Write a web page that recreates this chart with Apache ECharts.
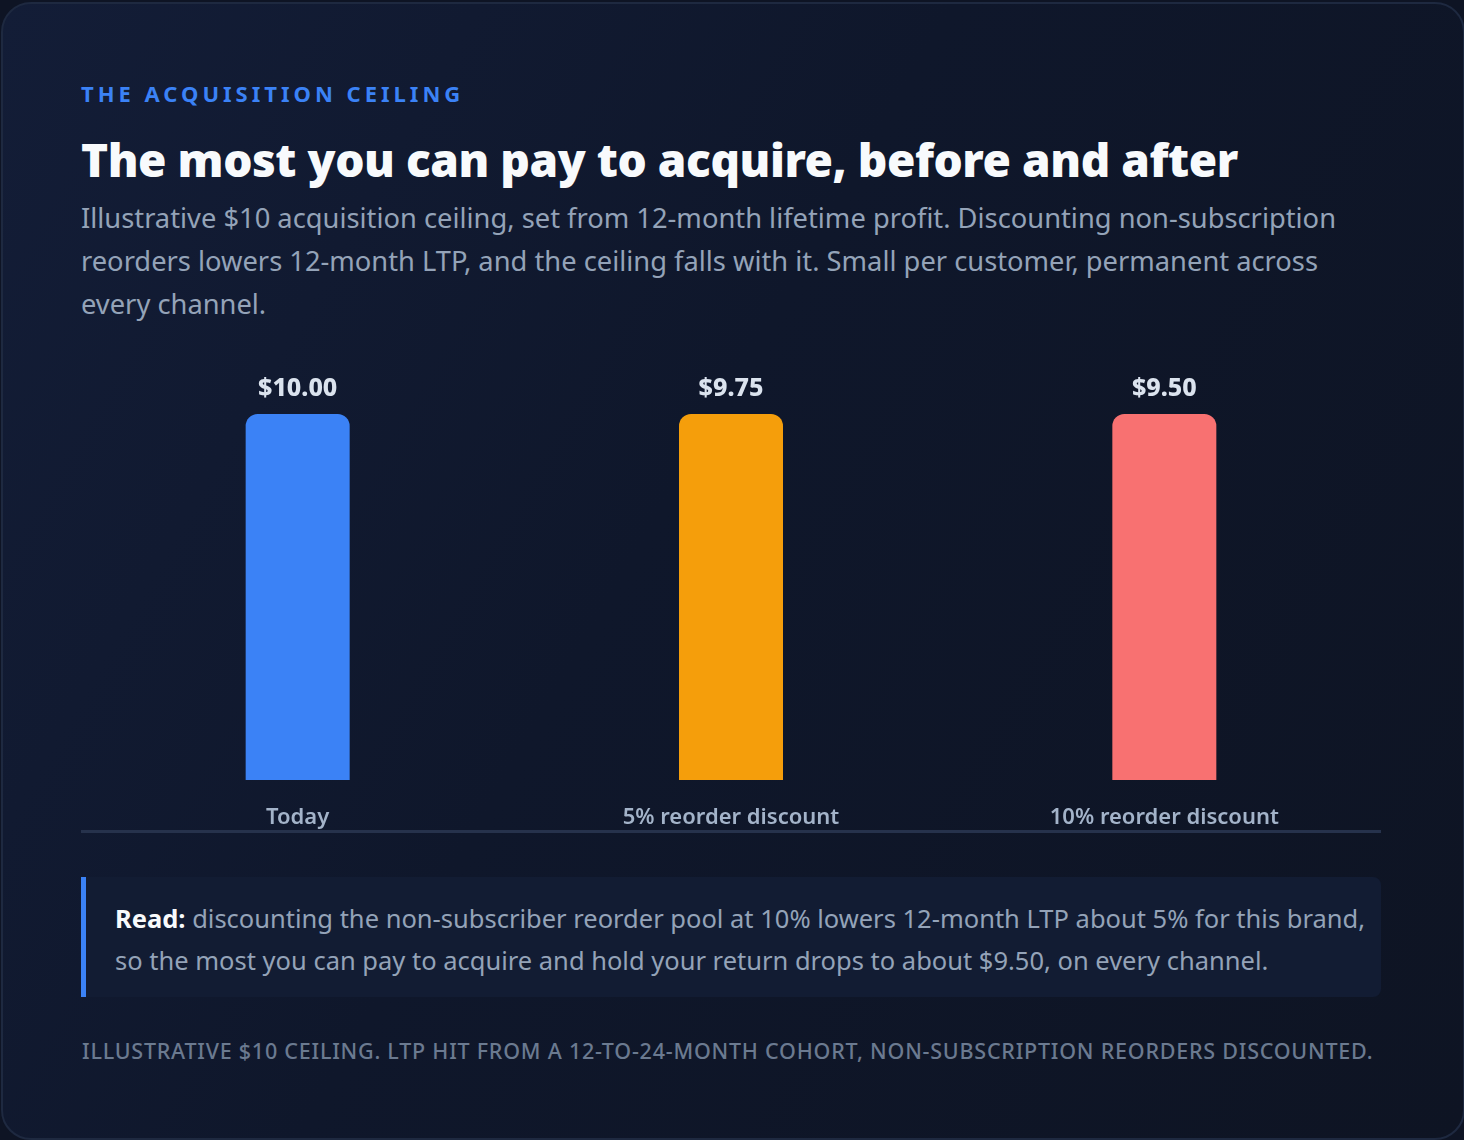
<!DOCTYPE html>
<html>
<head>
<meta charset="utf-8">
<script src="https://cdn.jsdelivr.net/npm/echarts@6/dist/echarts.min.js"></script>
<style>
  html, body { margin: 0; padding: 0; background: #0e1424; }
  body { width: 1464px; height: 1140px; overflow: hidden; font-family: "Noto Sans", "Open Sans", sans-serif; }
  .card {
    position: absolute; left: 1px; top: 2px; width: 1460px; height: 1134px;
    border: 2px solid #1e2940; border-radius: 30px;
    background: linear-gradient(120deg, #131d37 0%, #0f172b 45%, #0e1423 100%);
  }
  .kicker {
    position: absolute; left: 81px; top: 78px;
    font-size: 22px; font-weight: 700; letter-spacing: 4px; color: #3b82f6;
  }
  .title {
    position: absolute; left: 81px; top: 128px; white-space: nowrap;
    font-size: 46px; font-weight: 900; color: #f8fafc; letter-spacing: -0.45px;
  }
  .sub {
    position: absolute; left: 81px; top: 196px; width: 1290px;
    font-size: 27.3px; line-height: 43px; color: #94a3b8;
  }
  #chart { position: absolute; left: 81px; top: 360px; width: 1300px; height: 470px; }
  .axisline { position: absolute; left: 81px; top: 830px; width: 1300px; height: 3px; background: #26324c; }
  .note {
    position: absolute; left: 81px; top: 877px; width: 1266px; height: 120px;
    background: #121c33; border-left: 5px solid #3b82f6; border-radius: 0 8px 8px 0;
    padding-left: 29px; box-sizing: content-box;
  }
  .note p { margin: 20px 0 0 0; font-size: 25.5px; line-height: 42px; color: #94a3b8; }
  .note b { color: #f8fafc; }
  .foot {
    position: absolute; left: 82px; top: 1036px; white-space: nowrap;
    font-size: 21.5px; font-weight: 500; letter-spacing: 0.77px; color: #6b7a90;
  }
</style>
</head>
<body>
<div class="card">
</div>
<div class="kicker">THE ACQUISITION CEILING</div>
<div class="title">The most you can pay to acquire, before and after</div>
<div class="sub">Illustrative $10 acquisition ceiling, set from 12-month lifetime profit. Discounting non-subscription reorders lowers 12-month LTP, and the ceiling falls with it. Small per customer, permanent across every channel.</div>
<div id="chart"></div>
<div class="axisline"></div>
<div class="note"><p><b>Read:</b> discounting the non-subscriber reorder pool at 10% lowers 12-month LTP about 5% for this brand, so the most you can pay to acquire and hold your return drops to about $9.50, on every channel.</p></div>
<div class="foot">ILLUSTRATIVE $10 CEILING. LTP HIT FROM A 12-TO-24-MONTH COHORT, NON-SUBSCRIPTION REORDERS DISCOUNTED.</div>

<script>
// scenarios and the acquisition ceiling under each
var categories = ['Today', '5% reorder discount', '10% reorder discount'];
var ceilings = [10.00, 9.75, 9.50];
var barColors = ['#3b82f6', '#f59e0b', '#f87171'];

var myChart = echarts.init(document.getElementById('chart'));

var option = {
  animation: false,
  grid: { left: 0, right: 0, top: 54, bottom: 50 },
  xAxis: {
    type: 'category',
    data: categories,
    axisLine: { show: false },
    axisTick: { show: false },
    axisLabel: {
      margin: 27,
      verticalAlign: 'top',
      lineHeight: 22,
      fontSize: 22,
      fontWeight: 600,
      color: '#a3b3c9',
      fontFamily: 'Noto Sans'
    }
  },
  yAxis: {
    type: 'value',
    min: 0,
    max: 9.5,
    show: false,
    splitLine: { show: false }
  },
  series: [{
    type: 'bar',
    barWidth: 104,
    clip: true,
    data: ceilings.map(function (v, i) {
      return { value: v, itemStyle: { color: barColors[i] } };
    }),
    itemStyle: { borderRadius: [12, 12, 0, 0] },
    label: {
      show: true,
      position: 'top',
      distance: 13,
      fontSize: 25,
      fontWeight: 800,
      color: '#dbe3ee',
      fontFamily: 'Noto Sans',
      formatter: function (p) { return '$' + p.value.toFixed(2); }
    }
  }]
};

myChart.setOption(option);
</script>
</body>
</html>
